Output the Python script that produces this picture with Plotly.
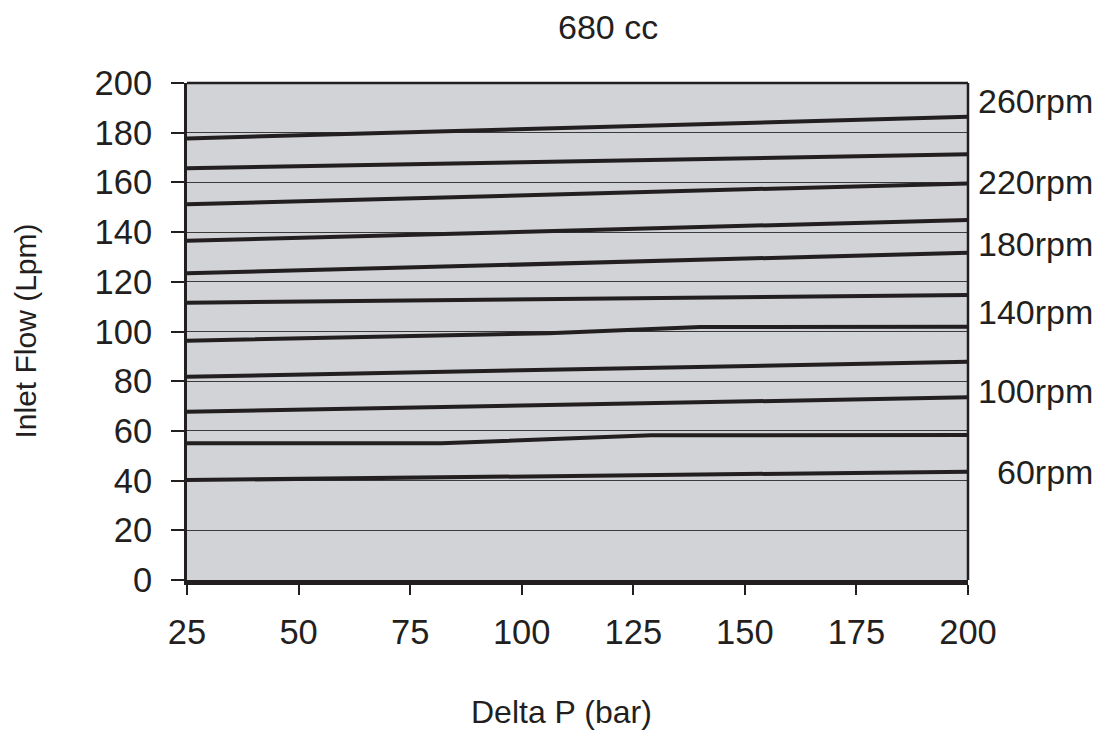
import plotly.graph_objects as go

# ---- data ----
rpm_series = ["260rpm", "240rpm", "220rpm", "200rpm", "180rpm", "160rpm",
              "140rpm", "120rpm", "100rpm", "80rpm", "60rpm"]
delta_p = {
    "260rpm": [25, 200],
    "240rpm": [25, 200],
    "220rpm": [25, 200],
    "200rpm": [25, 200],
    "180rpm": [25, 200],
    "160rpm": [25, 200],
    "140rpm": [25, 106, 140, 200],
    "120rpm": [25, 200],
    "100rpm": [25, 200],
    "80rpm": [25, 82, 129, 200],
    "60rpm": [25, 200],
}
inlet_flow = {
    "260rpm": [177.7, 186.4],
    "240rpm": [165.7, 171.3],
    "220rpm": [151.2, 159.6],
    "200rpm": [136.5, 144.9],
    "180rpm": [123.4, 131.7],
    "160rpm": [111.6, 114.7],
    "140rpm": [96.3, 99.3, 101.8, 101.9],
    "120rpm": [81.8, 87.8],
    "100rpm": [67.7, 73.5],
    "80rpm": [55.0, 55.0, 58.2, 58.4],
    "60rpm": [40.2, 43.6],
}
x_ticks = [25, 50, 75, 100, 125, 150, 175, 200]
y_ticks = [0, 20, 40, 60, 80, 100, 120, 140, 160, 180, 200]
label_names = ["260rpm", "220rpm", "180rpm", "140rpm", "100rpm", "60rpm"]
label_y = [192.8, 160.2, 135.2, 108.0, 75.9, 43.5]

title_text = "680 cc"
x_title = "Delta P (bar)"
y_title = "Inlet Flow (Lpm)"

FONT = "Liberation Sans, Arial, sans-serif"
INK = "#231f20"

fig = go.Figure()
for name in rpm_series:
    fig.add_trace(go.Scatter(
        x=delta_p[name], y=inlet_flow[name], mode="lines", name=name,
        line=dict(color=INK, width=4), showlegend=False, hoverinfo="x+y+name"))

annotations = []
for name, yv in zip(label_names, label_y):
    annotations.append(dict(text=name, x=1.1626, xref="paper", y=yv, yref="y",
                            xanchor="right", yanchor="middle", showarrow=False,
                            font=dict(family=FONT, size=34, color=INK)))
annotations.append(dict(text=title_text, x=0.539, xref="paper", y=1.1136, yref="paper",
                        xanchor="center", yanchor="middle", showarrow=False,
                        font=dict(family=FONT, size=34, color=INK)))
annotations.append(dict(text=x_title, x=0.479, xref="paper", y=-0.2663, yref="paper",
                        xanchor="center", yanchor="middle", showarrow=False,
                        font=dict(family=FONT, size=32, color=INK)))
annotations.append(dict(text=y_title, x=-0.2074, xref="paper", y=0.5, yref="paper",
                        xanchor="center", yanchor="middle", showarrow=False, textangle=-90,
                        font=dict(family=FONT, size=30, color=INK)))

fig.update_layout(
    width=1102, height=733,
    margin=dict(l=187, r=134, t=83, b=153),
    paper_bgcolor="white",
    plot_bgcolor="#d1d3d7",
    font=dict(family=FONT, size=34, color=INK),
    annotations=annotations,
    shapes=[
        dict(type="line", xref="paper", yref="paper", x0=0, x1=1, y0=1, y1=1,
             line=dict(color=INK, width=2.5)),
        dict(type="line", xref="paper", yref="paper", x0=1, x1=1, y0=0, y1=1,
             line=dict(color=INK, width=2.5)),
    ],
)
fig.update_xaxes(range=[25, 200], tickvals=x_ticks, ticks="outside", ticklen=10,
                 tickwidth=2, tickcolor=INK, showline=True, linewidth=5, linecolor=INK,
                 showgrid=False, zeroline=False, ticklabelstandoff=8,
                 tickfont=dict(family=FONT, size=34.5, color=INK))
fig.update_yaxes(range=[0, 200], tickvals=y_ticks, ticks="outside", ticklen=13,
                 tickwidth=2, tickcolor=INK, showline=True, linewidth=3, linecolor=INK,
                 showgrid=True, gridcolor="#3a3a3a", gridwidth=1, zeroline=False,
                 ticklabelstandoff=12,
                 tickfont=dict(family=FONT, size=34.5, color=INK))

fig.write_html("out.html")
